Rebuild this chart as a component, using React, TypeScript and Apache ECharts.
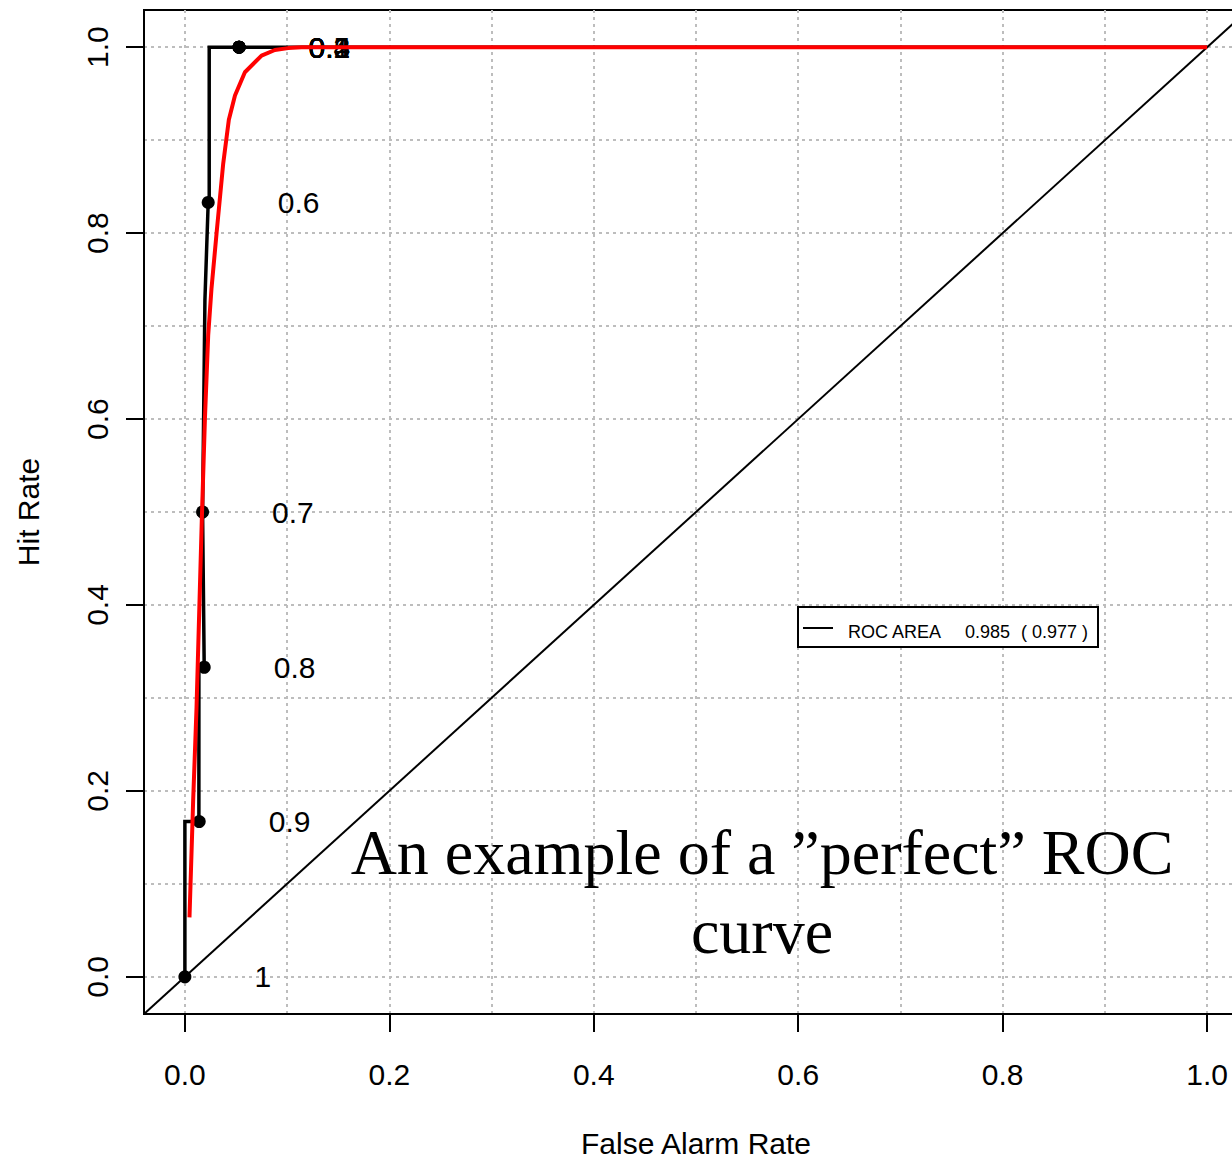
import React, { useEffect, useRef } from "react";
import * as echarts from "echarts";

// Axis ticks / labels and the 0.1 reference grid
const tickValues = [0, 0.2, 0.4, 0.6, 0.8, 1.0];
const gridValues = [0, 0.1, 0.2, 0.3, 0.4, 0.5, 0.6, 0.7, 0.8, 0.9, 1.0];

// Empirical ROC curve (false alarm rate, hit rate)
const rocFalseAlarm = [0, 0, 0.0137, 0.0137, 0.0189, 0.0173, 0.0196, 0.0228, 0.0238, 0.0238, 0.053, 1];
const rocHitRate = [0, 0.167, 0.167, 0.333, 0.333, 0.5, 0.728, 0.833, 0.833, 1, 1, 1];

// Probability thresholds marked on the empirical curve
const thresholdLabels = ["1", "0.9", "0.8", "0.7", "0.6", "0.5", "0.4", "0.3", "0.2", "0.1", "0"];
const thresholdFalseAlarm = [0, 0.014, 0.0189, 0.0173, 0.0228, 0.053, 0.053, 0.053, 0.053, 0.053, 0.053];
const thresholdHitRate = [0, 0.167, 0.333, 0.5, 0.833, 1, 1, 1, 1, 1, 1];

// Fitted (binormal) ROC curve
const fitFalseAlarm = [0.0045, 0.0081, 0.0114, 0.0165, 0.0196, 0.0228, 0.026, 0.031, 0.0375, 0.043, 0.049, 0.0587, 0.075, 0.088, 0.101, 0.114, 1];
const fitHitRate = [0.064, 0.19, 0.29, 0.49, 0.6, 0.69, 0.74, 0.8, 0.875, 0.922, 0.948, 0.973, 0.991, 0.997, 0.999, 1, 1];

// No-skill diagonal
const diagonal = [-0.04, 1.04];

const rocArea = "0.985";
const rocAreaFit = "0.977";

const SANS = "'Liberation Sans', Arial, Helvetica, sans-serif";
const SERIF = "'Liberation Serif', 'Times New Roman', serif";

export default function App() {
  const ref = useRef<HTMLDivElement>(null);

  useEffect(() => {
    if (!ref.current) return;
    const chart = echarts.init(ref.current, undefined, { renderer: "svg" });

    const axisCommon = {
      type: "value",
      min: -0.04,
      max: 1.04,
      axisLine: { show: true, onZero: false, lineStyle: { color: "#000", width: 2 } },
      axisTick: {
        show: true,
        customValues: tickValues,
        length: 18,
        lineStyle: { color: "#000", width: 2 },
      },
      splitLine: { show: false },
      nameLocation: "middle",
      nameTextStyle: { fontSize: 30, fontFamily: SANS, color: "#000" },
    };

    const legendText = (x: number, text: string) => ({
      type: "text",
      z: 21,
      x,
      y: 632,
      style: { text, fontFamily: SANS, fontSize: 18, fill: "#000", verticalAlign: "middle" },
    });

    chart.setOption({
      animation: false,
      backgroundColor: "#fff",
      grid: {
        left: 144,
        top: 10,
        right: -16,
        bottom: 146,
        show: true,
        borderColor: "#000",
        borderWidth: 2,
        backgroundColor: "transparent",
        outerBoundsMode: "none",
      },
      xAxis: {
        ...axisCommon,
        name: "False Alarm Rate",
        nameGap: 114,
        axisLabel: {
          customValues: tickValues,
          formatter: (v: number) => v.toFixed(1),
          fontSize: 30,
          fontFamily: SANS,
          color: "#000",
          margin: 45,
        },
      },
      yAxis: {
        ...axisCommon,
        name: "Hit Rate",
        nameGap: 101,
        axisLabel: {
          customValues: tickValues,
          formatter: (v: number) => v.toFixed(1),
          fontSize: 30,
          fontFamily: SANS,
          color: "#000",
          rotate: 90,
          margin: 32,
        },
      },
      series: [
        {
          type: "line",
          name: "diagonal",
          z: 1,
          data: diagonal.map((v) => [v, v]),
          symbol: "none",
          lineStyle: { color: "#000", width: 2 },
          markLine: {
            silent: true,
            symbol: "none",
            label: { show: false },
            lineStyle: { color: "#bdbdbd", width: 2, type: [3, 4] },
            data: [
              ...gridValues.map((v) => ({ xAxis: v })),
              ...gridValues.map((v) => ({ yAxis: v })),
            ],
            z: 0,
          },
        },
        {
          type: "line",
          name: "ROC",
          z: 2,
          data: rocFalseAlarm.map((x, i) => [x, rocHitRate[i]]),
          symbol: "none",
          lineStyle: { color: "#000", width: 3.5, join: "miter" },
        },
        {
          type: "scatter",
          name: "thresholds",
          z: 3,
          symbolSize: 13,
          itemStyle: { color: "#000", opacity: 1 },
          emphasis: { disabled: true },
          data: thresholdFalseAlarm.map((x, i) => ({
            value: [x, thresholdHitRate[i]],
            label: { formatter: thresholdLabels[i] },
          })),
          label: {
            show: true,
            position: "right",
            distance: 63,
            offset: [0, 5],
            fontSize: 30,
            fontFamily: SANS,
            color: "#000",
            opacity: 1,
          },
          labelLayout: { hideOverlap: false },
        },
        {
          type: "line",
          name: "fit",
          z: 5,
          data: fitFalseAlarm.map((x, i) => [x, fitHitRate[i]]),
          symbol: "none",
          lineStyle: { color: "#ff0000", width: 4 },
        },
      ],
      graphic: [
        {
          type: "text",
          z: 20,
          x: 762,
          y: 892,
          style: {
            text: "An example of a \u201dperfect\u201d ROC\ncurve",
            fontFamily: SERIF,
            fontSize: 64,
            lineHeight: 79,
            fill: "#000",
            align: "center",
            verticalAlign: "middle",
          },
        },
        {
          type: "rect",
          z: 20,
          shape: { x: 798, y: 607, width: 300, height: 40 },
          style: { fill: "#fff", stroke: "#000", lineWidth: 2 },
        },
        {
          type: "line",
          z: 21,
          shape: { x1: 803, y1: 628, x2: 833, y2: 628 },
          style: { stroke: "#000", lineWidth: 2 },
        },
        legendText(848, "ROC AREA"),
        legendText(965, rocArea),
        legendText(1021, "( " + rocAreaFit + " )"),
      ],
    });

    return () => chart.dispose();
  }, []);

  return (
    <div
      ref={ref}
      style={{ position: "absolute", left: 0, top: 0, width: 1232, height: 1160, background: "#fff" }}
    />
  );
}
